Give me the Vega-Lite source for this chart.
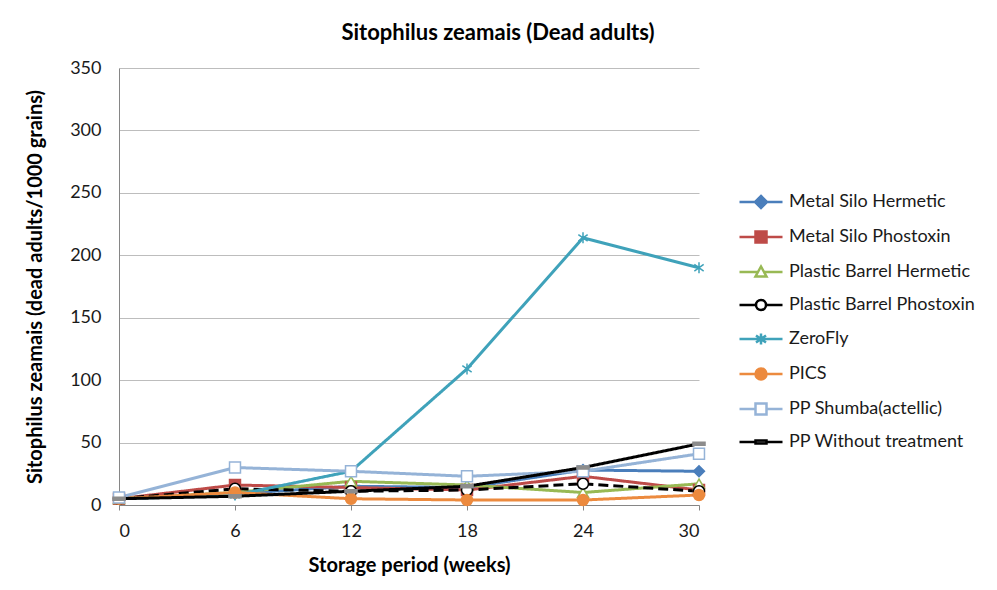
{
  "$schema": "https://vega.github.io/schema/vega-lite/v6.json",
  "width": 580,
  "height": 437,
  "autosize": "none",
  "padding": {"left": 119, "top": 68, "right": 298, "bottom": 85},
  "background": "#ffffff",
  "config": {
    "font": "Lato",
    "view": {"stroke": null},
    "legend": {
      "orient": "none",
      "legendX": 633,
      "legendY": 125,
      "labelFont": "Lato",
      "labelFontSize": 18,
      "labelColor": "#1a1a1a",
      "labelOffset": 19,
      "labelLimit": 400,
      "rowPadding": 13,
      "symbolStrokeWidth": 2.5,
      "symbolSize": 100
    }
  },
  "title": {
    "text": "Sitophilus zeamais (Dead adults)",
    "font": "Lato",
    "fontSize": 22,
    "fontWeight": "bold",
    "color": "#000000",
    "anchor": "middle",
    "frame": "group",
    "dx": 89,
    "offset": 14
  },
  "data": {
    "values": [
      {"series": "Metal Silo Hermetic", "week": 0, "value": 5},
      {"series": "Metal Silo Hermetic", "week": 6, "value": 9},
      {"series": "Metal Silo Hermetic", "week": 12, "value": 15},
      {"series": "Metal Silo Hermetic", "week": 18, "value": 14},
      {"series": "Metal Silo Hermetic", "week": 24, "value": 28},
      {"series": "Metal Silo Hermetic", "week": 30, "value": 27},
      {"series": "Metal Silo Phostoxin", "week": 0, "value": 5},
      {"series": "Metal Silo Phostoxin", "week": 6, "value": 16},
      {"series": "Metal Silo Phostoxin", "week": 12, "value": 14},
      {"series": "Metal Silo Phostoxin", "week": 18, "value": 12},
      {"series": "Metal Silo Phostoxin", "week": 24, "value": 23},
      {"series": "Metal Silo Phostoxin", "week": 30, "value": 12},
      {"series": "Plastic Barrel Hermetic", "week": 0, "value": 5},
      {"series": "Plastic Barrel Hermetic", "week": 6, "value": 10},
      {"series": "Plastic Barrel Hermetic", "week": 12, "value": 19},
      {"series": "Plastic Barrel Hermetic", "week": 18, "value": 16},
      {"series": "Plastic Barrel Hermetic", "week": 24, "value": 10},
      {"series": "Plastic Barrel Hermetic", "week": 30, "value": 17},
      {"series": "Plastic Barrel Phostoxin", "week": 0, "value": 5},
      {"series": "Plastic Barrel Phostoxin", "week": 6, "value": 13},
      {"series": "Plastic Barrel Phostoxin", "week": 12, "value": 11},
      {"series": "Plastic Barrel Phostoxin", "week": 18, "value": 12},
      {"series": "Plastic Barrel Phostoxin", "week": 24, "value": 17},
      {"series": "Plastic Barrel Phostoxin", "week": 30, "value": 11},
      {"series": "ZeroFly", "week": 0, "value": 5},
      {"series": "ZeroFly", "week": 6, "value": 8},
      {"series": "ZeroFly", "week": 12, "value": 27},
      {"series": "ZeroFly", "week": 18, "value": 109},
      {"series": "ZeroFly", "week": 24, "value": 214},
      {"series": "ZeroFly", "week": 30, "value": 190},
      {"series": "PICS", "week": 0, "value": 5},
      {"series": "PICS", "week": 6, "value": 10},
      {"series": "PICS", "week": 12, "value": 5},
      {"series": "PICS", "week": 18, "value": 4},
      {"series": "PICS", "week": 24, "value": 4},
      {"series": "PICS", "week": 30, "value": 8},
      {"series": "PP Shumba(actellic)", "week": 0, "value": 6},
      {"series": "PP Shumba(actellic)", "week": 6, "value": 30},
      {"series": "PP Shumba(actellic)", "week": 12, "value": 27},
      {"series": "PP Shumba(actellic)", "week": 18, "value": 23},
      {"series": "PP Shumba(actellic)", "week": 24, "value": 27},
      {"series": "PP Shumba(actellic)", "week": 30, "value": 41},
      {"series": "PP Without treatment", "week": 0, "value": 5},
      {"series": "PP Without treatment", "week": 6, "value": 7},
      {"series": "PP Without treatment", "week": 12, "value": 11},
      {"series": "PP Without treatment", "week": 18, "value": 15},
      {"series": "PP Without treatment", "week": 24, "value": 30},
      {"series": "PP Without treatment", "week": 30, "value": 49}
    ]
  },
  "encoding": {
    "x": {
      "field": "week",
      "type": "quantitative",
      "scale": {"domain": [0, 30], "nice": false, "zero": false},
      "axis": {
        "title": "Storage period (weeks)",
        "values": [0, 6, 12, 18, 24, 30],
        "grid": false,
        "domainColor": "#868686",
        "domainWidth": 1,
        "tickColor": "#868686",
        "tickSize": 5,
        "labelFont": "Lato",
        "labelFontSize": 18,
        "labelColor": "#1a1a1a",
        "labelPadding": 12,
        "titleFont": "Lato",
        "titleFontSize": 20,
        "titleFontWeight": "bold",
        "titleColor": "#000000",
        "titlePadding": 15
      }
    },
    "y": {
      "field": "value",
      "type": "quantitative",
      "scale": {"domain": [0, 350], "nice": false},
      "axis": {
        "title": "Sitophilus zeamais (dead adults/1000 grains)",
        "values": [0, 50, 100, 150, 200, 250, 300, 350],
        "grid": true,
        "gridColor": "#BDBDBD",
        "gridWidth": 1,
        "domainColor": "#868686",
        "domainWidth": 1,
        "ticks": false,
        "labelFont": "Lato",
        "labelFontSize": 18,
        "labelColor": "#1a1a1a",
        "labelPadding": 18,
        "titleFont": "Lato",
        "titleFontSize": 20,
        "titleFontWeight": "bold",
        "titleColor": "#000000",
        "titlePadding": 24
      }
    }
  },
  "layer": [
    {
      "mark": {"type": "line", "strokeWidth": 3},
      "encoding": {
        "stroke": {
          "field": "series",
          "type": "nominal",
          "legend": null,
          "scale": {
            "domain": ["Metal Silo Hermetic", "Metal Silo Phostoxin", "Plastic Barrel Hermetic", "Plastic Barrel Phostoxin", "ZeroFly", "PICS", "PP Shumba(actellic)", "PP Without treatment"],
            "range": ["#4A7EBB", "#BE4B48", "#98B954", "#000000", "#3FA2BA", "#EC8A3E", "#95B3D7", "#000000"]
          }
        },
        "strokeDash": {
          "field": "series",
          "type": "nominal",
          "legend": null,
          "scale": {
            "domain": ["Metal Silo Hermetic", "Metal Silo Phostoxin", "Plastic Barrel Hermetic", "Plastic Barrel Phostoxin", "ZeroFly", "PICS", "PP Shumba(actellic)", "PP Without treatment"],
            "range": [[1, 0], [1, 0], [1, 0], [10, 5], [1, 0], [1, 0], [1, 0], [1, 0]]
          }
        }
      }
    },
    {
      "mark": {"type": "point", "filled": true, "size": 120, "strokeWidth": 1.5, "opacity": 1},
      "encoding": {
        "shape": {
          "field": "series",
          "type": "nominal",
          "legend": null,
          "scale": {
            "domain": ["Metal Silo Hermetic", "Metal Silo Phostoxin", "Plastic Barrel Hermetic", "Plastic Barrel Phostoxin", "ZeroFly", "PICS", "PP Shumba(actellic)", "PP Without treatment"],
            "range": ["diamond", "square", "triangle-up", "circle", "M0,-1V1M-0.85,-0.6L0.85,0.6M-0.85,0.6L0.85,-0.6", "circle", "square", "M-1.1,-0.28H1.1V0.28H-1.1Z"]
          }
        },
        "fill": {
          "field": "series",
          "type": "nominal",
          "legend": null,
          "scale": {
            "domain": ["Metal Silo Hermetic", "Metal Silo Phostoxin", "Plastic Barrel Hermetic", "Plastic Barrel Phostoxin", "ZeroFly", "PICS", "PP Shumba(actellic)", "PP Without treatment"],
            "range": ["#4A7EBB", "#BE4B48", "#FFFFFF", "#FFFFFF", "#3FA2BA", "#EC8A3E", "#FFFFFF", "#8C8C8C"]
          }
        },
        "stroke": {
          "field": "series",
          "type": "nominal",
          "legend": null,
          "scale": {
            "domain": ["Metal Silo Hermetic", "Metal Silo Phostoxin", "Plastic Barrel Hermetic", "Plastic Barrel Phostoxin", "ZeroFly", "PICS", "PP Shumba(actellic)", "PP Without treatment"],
            "range": ["#4A7EBB", "#BE4B48", "#98B954", "#000000", "#3FA2BA", "#EC8A3E", "#95B3D7", "#8C8C8C"]
          }
        }
      }
    },
    {
      "transform": [{"filter": "datum.week < 0"}],
      "mark": {"type": "point", "filled": true, "size": 100, "strokeWidth": 2.5, "opacity": 1},
      "encoding": {
        "shape": {
          "field": "series",
          "type": "nominal",
          "legend": {"title": null},
          "scale": {
            "domain": ["Metal Silo Hermetic", "Metal Silo Phostoxin", "Plastic Barrel Hermetic", "Plastic Barrel Phostoxin", "ZeroFly", "PICS", "PP Shumba(actellic)", "PP Without treatment"],
            "range": [
              "M-4.3,0H4.3M0,-1.2L1.2,0L0,1.2L-1.2,0Z",
              "M-4.3,0H4.3M-1.1,-1.1H1.1V1.1H-1.1Z",
              "M-4.3,0H-0.6M0.6,0H4.3M0,-1.1L1.1,0.9H-1.1Z",
              "M-4.3,0H-1M1,0H4.3M-1,0A1,1,0,1,0,1,0A1,1,0,1,0,-1,0Z",
              "M-4.3,0H4.3M0,-1.1V1.1M-1,-0.7L1,0.7M-1,0.7L1,-0.7",
              "M-4.3,0H4.3M-1.1,0A1.1,1.1,0,1,0,1.1,0A1.1,1.1,0,1,0,-1.1,0Z",
              "M-4.3,0H-1.1M1.1,0H4.3M-1.1,-1.1H1.1V1.1H-1.1Z",
              "M-4.3,0H-1.1M1.1,0H4.3M-1.1,-0.3H1.1V0.3H-1.1Z"
            ]
          }
        },
        "fill": {
          "field": "series",
          "type": "nominal",
          "legend": {"title": null},
          "scale": {
            "domain": ["Metal Silo Hermetic", "Metal Silo Phostoxin", "Plastic Barrel Hermetic", "Plastic Barrel Phostoxin", "ZeroFly", "PICS", "PP Shumba(actellic)", "PP Without treatment"],
            "range": ["#4A7EBB", "#BE4B48", "#FFFFFF", "#FFFFFF", "#3FA2BA", "#EC8A3E", "#FFFFFF", "#8C8C8C"]
          }
        },
        "stroke": {
          "field": "series",
          "type": "nominal",
          "legend": {"title": null},
          "scale": {
            "domain": ["Metal Silo Hermetic", "Metal Silo Phostoxin", "Plastic Barrel Hermetic", "Plastic Barrel Phostoxin", "ZeroFly", "PICS", "PP Shumba(actellic)", "PP Without treatment"],
            "range": ["#4A7EBB", "#BE4B48", "#98B954", "#000000", "#3FA2BA", "#EC8A3E", "#95B3D7", "#000000"]
          }
        }
      }
    }
  ],
  "resolve": {
    "scale": {"shape": "independent", "fill": "independent", "stroke": "independent", "strokeDash": "independent"}
  }
}
